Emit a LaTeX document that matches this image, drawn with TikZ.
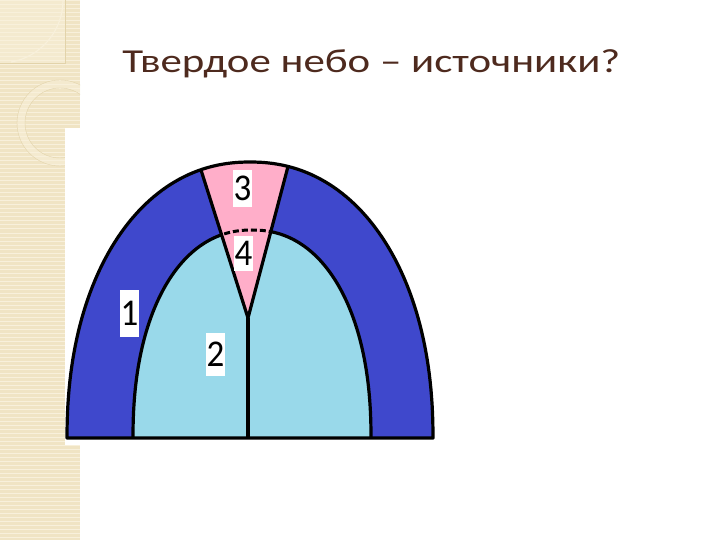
\documentclass[tikz,border=0pt]{standalone}
\usepackage{fontspec}
\setmainfont{Carlito}
\definecolor{outerblue}{RGB}{63,72,204}
\definecolor{innerblue}{RGB}{153,217,234}
\definecolor{wedgepink}{RGB}{255,174,201}
\definecolor{stripbg}{RGB}{240,228,196}
\definecolor{stripline}{RGB}{248,240,219}
\definecolor{stripdark}{RGB}{226,211,170}
\definecolor{titlebrown}{RGB}{78,42,30}
\tikzset{
  outercurve/.style={insert path={plot[domain=0:180,samples=121]
    ({250+183*cos(\x)*pow(abs(cos(\x))+0.0001,-0.07)},
     {438-276*sin(\x)*pow(abs(sin(\x))+0.0001,-0.07)})}},
  innercurve/.style={insert path={plot[domain=0:180,samples=121]
    ({252+119*cos(\x)*pow(abs(cos(\x))+0.0001,-0.0909)},
     {438-208*sin(\x)*pow(abs(sin(\x))+0.0001,-0.0909)})}},
  outline/.style={line width=3.2pt, line join=round, draw=black},
  digitbox/.style={fill=white, inner sep=0pt, minimum width=19pt,
    font=\fontsize{35}{35}\selectfont, text=black, yscale=1.08}
}
\begin{document}
\begin{tikzpicture}[x=1pt,y=-1pt]
\useasboundingbox (0,0) rectangle (720,540);
\fill[white] (0,0) rectangle (720,540);
% decorative strip
\fill[stripbg] (0,0) rectangle (80,540);
\foreach \k in {0,...,134} \draw[stripline, line width=1pt] (0,{\k*4+1}) -- (80,{\k*4+1});
\begin{scope}
  \clip (0,0) rectangle (80,540);
  \fill[stripline, opacity=0.5] (0,0) rectangle (65,63);
  \draw[stripdark, line width=0.5pt] (65,0) -- (65,63) -- (0,63);
  \draw[stripline, line width=1.2pt] (63,0) arc[start angle=0, end angle=80, radius=63];
  \fill[stripline, opacity=0.5, even odd rule] (60,123) circle[radius=43] (60,123) circle[radius=35];
  \draw[stripdark, line width=0.4pt] (60,123) circle[radius=43];
  \draw[stripdark, line width=0.4pt] (60,123) circle[radius=35];
\end{scope}
% white panel of the picture
\fill[white] (65,128) rectangle (455,445);
% title
\node[anchor=base west, text=titlebrown, font=\fontsize{33.5}{40}\selectfont, inner sep=0pt, xscale=1.28] (title) at (122,73) {Твердое небо – источники?};
% coordinates
\coordinate (apex) at (248,318);
\coordinate (wl) at (201,170);
\coordinate (wr) at (288,166.5);
\coordinate (bc) at (248,438);
\coordinate (wlx) at (190.7,140);
\coordinate (wrx) at (295.2,140);
% outer arch
\fill[outerblue, outercurve] -- cycle;
% inner arch
\fill[innerblue, innercurve] -- cycle;
\draw[outline, innercurve];
% pink wedge
\begin{scope}
  \clip[outercurve] -- cycle;
  \fill[wedgepink] (apex) -- (wlx) -- (wrx) -- cycle;
\end{scope}
\begin{scope}
  \clip (apex) -- (wlx) -- (wrx) -- cycle;
  \draw[line width=3pt, dash pattern=on 6pt off 3pt, innercurve];
\end{scope}
\draw[outline] (wl) -- (apex) -- (wr);
\draw[outline] (apex) -- (bc);
\draw[outline, outercurve] -- cycle;
% labels
\node[digitbox, minimum height=43.5pt] (l1) at (129.5,313.5) {1};
\node[digitbox, minimum height=40pt] (l2) at (215.5,354.5) {2};
\node[digitbox, minimum height=34pt] (l3) at (242.5,188.5) {3};
\node[digitbox, minimum height=32pt] (l4) at (243.5,253.5) {4};
\end{tikzpicture}
\end{document}
